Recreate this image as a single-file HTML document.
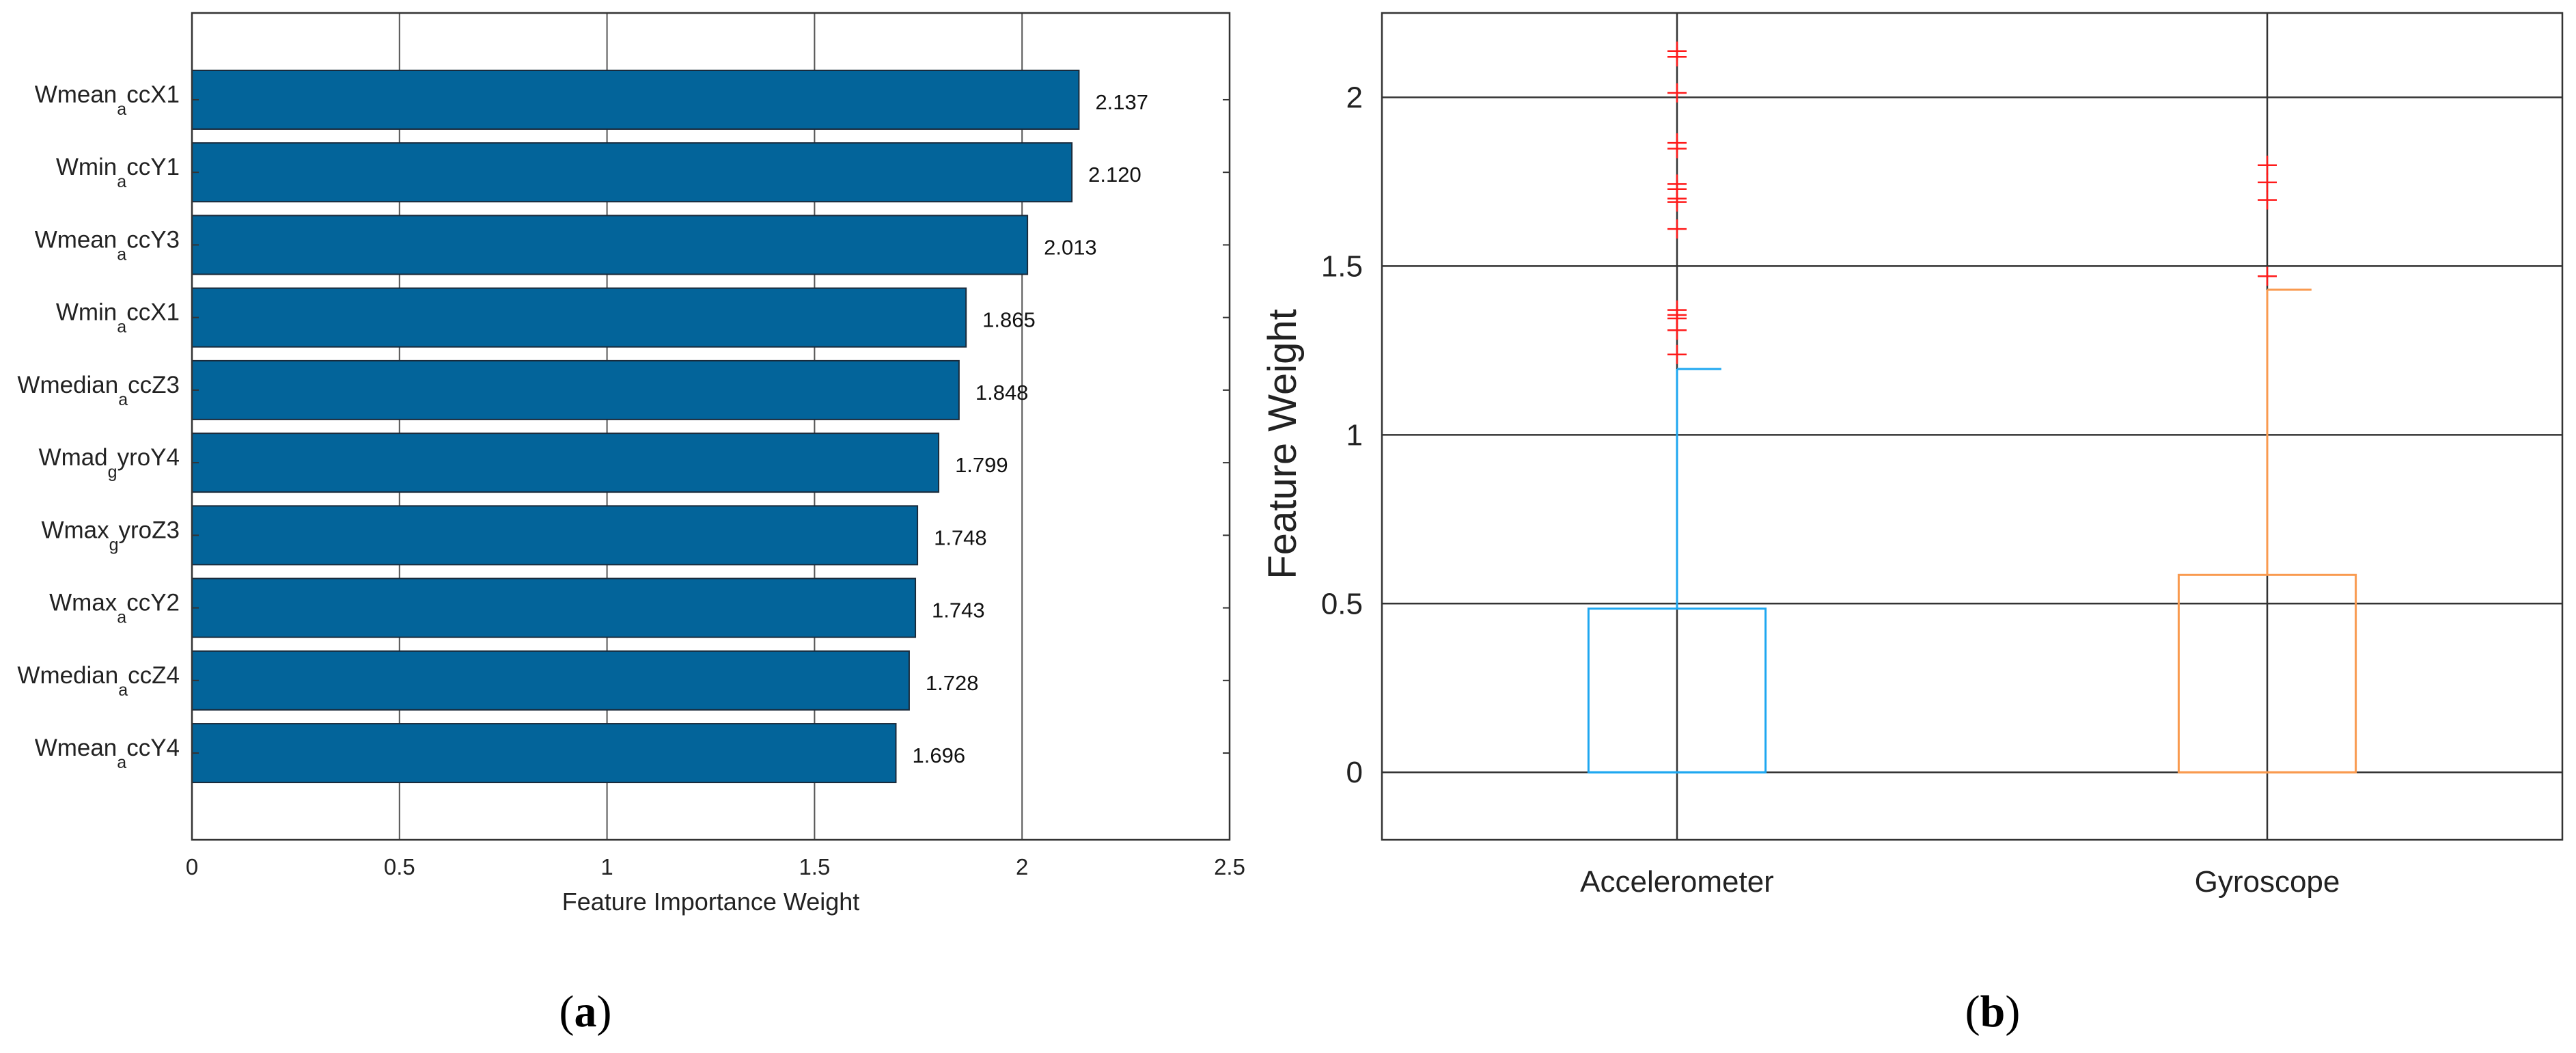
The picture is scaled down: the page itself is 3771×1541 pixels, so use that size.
<!DOCTYPE html>
<html><head><meta charset="utf-8"><style>
html,body{margin:0;padding:0;background:#fff;}
svg{display:block;font-family:"Liberation Sans",sans-serif;}
</style></head><body>
<svg id="fig" width="3771" height="1541" viewBox="0 0 3771 1541"></svg>
<script>
const barLabels=[["Wmean","a","ccX1"],["Wmin","a","ccY1"],["Wmean","a","ccY3"],["Wmin","a","ccX1"],["Wmedian","a","ccZ3"],["Wmad","g","yroY4"],["Wmax","g","yroZ3"],["Wmax","a","ccY2"],["Wmedian","a","ccZ4"],["Wmean","a","ccY4"]];
const barValues=[2.137,2.120,2.013,1.865,1.848,1.799,1.748,1.743,1.728,1.696];
const barXTicks=[0,0.5,1,1.5,2,2.5];
const boxCats=["Accelerometer","Gyroscope"];
const boxQ1=[0,0];
const boxMedian=[0,0];
const boxQ3=[0.485,0.585];
const boxWhiskerHi=[1.195,1.43];
const accOutliers=[2.137,2.12,2.013,1.865,1.848,1.743,1.728,1.70,1.69,1.61,1.37,1.355,1.345,1.31,1.238];
const gyroOutliers=[1.799,1.748,1.696,1.47];
const boxYTicks=[0,0.5,1,1.5,2];
const boxColors=["#1ea7f0","#f99a4f"];

const NS="http://www.w3.org/2000/svg";
const svg=document.getElementById('fig');
function mk(tag,attrs,parent){const e=document.createElementNS(NS,tag);for(const k in attrs)e.setAttribute(k,attrs[k]);(parent||svg).appendChild(e);return e;}

// ---- Chart A ----
const AX0=281,AX1=1800,AY0=19,AY1=1229;
const ax=v=>AX0+(v-0)/(2.5-0)*(AX1-AX0);
const step=(AY1-AY0)/11.39;
const ay=i=>AY0+(i+1.195)*step;
const gA=mk('g',{});


barXTicks.forEach(t=>{
  if(t>0&&t<2.5){const l=mk('line',{x1:ax(t),x2:ax(t),y1:AY0,y2:AY1,stroke:'#555','stroke-width':2},gA);
  }
  const tx=mk('text',{x:ax(t),y:1280,'font-size':33,'text-anchor':'middle',fill:'#222'},gA);tx.textContent=t;
  
});
barValues.forEach((v,i)=>{
  const c=ay(i);
  const r=mk('rect',{x:AX0,y:c-43,width:ax(v)-AX0,height:86,fill:'#03649a',stroke:'#1a2a3a','stroke-width':2},gA);
  
  const vt=mk('text',{x:ax(v)+24,y:c+14,'font-size':31,fill:'#111'},gA);vt.textContent=v.toFixed(3);
  
  const lb=barLabels[i];
  const t=mk('text',{x:AX0-18,y:c+4,'font-size':35,'text-anchor':'end',fill:'#222'},gA);
  
  const s1=mk('tspan',{},t);s1.textContent=lb[0];
  const s2=mk('tspan',{dy:18,'font-size':25},t);s2.textContent=lb[1];
  const s3=mk('tspan',{dy:-18},t);s3.textContent=lb[2];
  mk('line',{x1:AX0,x2:AX0+10,y1:c,y2:c,stroke:'#333','stroke-width':2},gA);
  mk('line',{x1:AX1-10,x2:AX1,y1:c,y2:c,stroke:'#333','stroke-width':2},gA);
});
const fA=mk('rect',{x:AX0,y:AY0,width:AX1-AX0,height:AY1-AY0,fill:'none',stroke:'#333','stroke-width':2.5},gA);

const xl=mk('text',{x:(AX0+AX1)/2,y:1332,'font-size':36,'text-anchor':'middle',fill:'#222'},gA);xl.textContent='Feature Importance Weight';

const ca=mk('text',{x:857,y:1502,'font-size':66,'text-anchor':'middle','font-family':'Liberation Serif, serif',fill:'#000'});

const ca1=mk('tspan',{},ca);ca1.textContent='(';const ca2=mk('tspan',{'font-weight':'bold'},ca);ca2.textContent='a';const ca3=mk('tspan',{},ca);ca3.textContent=')';

// ---- Chart B ----
const BX0=2023,BX1=3751,BY0=19,BY1=1229;
const bx=v=>BX0+(v-0.5)/2*(BX1-BX0);
const by=v=>BY1-(v+0.2)/2.45*(BY1-BY0);
const gB=mk('g',{});


boxYTicks.forEach(t=>{
  const l=mk('line',{x1:BX0,x2:BX1,y1:by(t),y2:by(t),stroke:'#333','stroke-width':2.5},gB);
  
  const tx=mk('text',{x:BX0-28,y:by(t)+15,'font-size':44,'text-anchor':'end',fill:'#222'},gB);tx.textContent=t;
  
});
boxCats.forEach((c,i)=>{
  const x=bx(i+1);
  const l=mk('line',{x1:x,x2:x,y1:BY0,y2:BY1,stroke:'#333','stroke-width':2.5},gB);
  
  const tx=mk('text',{x:x,y:1305,'font-size':44,'text-anchor':'middle',fill:'#222'},gB);tx.textContent=c;
  
});
boxCats.forEach((c,i)=>{
  const x=bx(i+1),hw=bx(1.15)-bx(1),col=boxColors[i];
  const w=mk('line',{x1:x,x2:x,y1:by(boxQ3[i]),y2:by(boxWhiskerHi[i]),stroke:col,'stroke-width':3},gB);
  
  const cap=mk('line',{x1:x,x2:x+hw/2,y1:by(boxWhiskerHi[i]),y2:by(boxWhiskerHi[i]),stroke:col,'stroke-width':3},gB);
  
  const r=mk('rect',{x:x-hw,y:by(boxQ3[i]),width:2*hw,height:by(boxQ1[i])-by(boxQ3[i]),fill:'none',stroke:col,'stroke-width':3},gB);
  
  const m=mk('line',{x1:x-hw,x2:x+hw,y1:by(boxMedian[i]),y2:by(boxMedian[i]),stroke:col,'stroke-width':3},gB);
  
  const outs=i===0?accOutliers:gyroOutliers;
  outs.forEach(v=>{
    const p=mk('path',{d:`M${x-14},${by(v)}H${x+14}M${x},${by(v)-14}V${by(v)+14}`,stroke:'#ff1a1a','stroke-width':2.5,fill:'none'},gB);
    
  });
});
const fB=mk('rect',{x:BX0,y:BY0,width:BX1-BX0,height:BY1-BY0,fill:'none',stroke:'#333','stroke-width':2.5},gB);

const yl=mk('text',{x:0,y:0,'font-size':58,'text-anchor':'middle',fill:'#222',transform:`translate(1897,650) rotate(-90)`},gB);yl.textContent='Feature Weight';

const cb=mk('text',{x:2917,y:1502,'font-size':66,'text-anchor':'middle','font-family':'Liberation Serif, serif',fill:'#000'});

const cb1=mk('tspan',{},cb);cb1.textContent='(';const cb2=mk('tspan',{'font-weight':'bold'},cb);cb2.textContent='b';const cb3=mk('tspan',{},cb);cb3.textContent=')';
</script>
</body></html>
